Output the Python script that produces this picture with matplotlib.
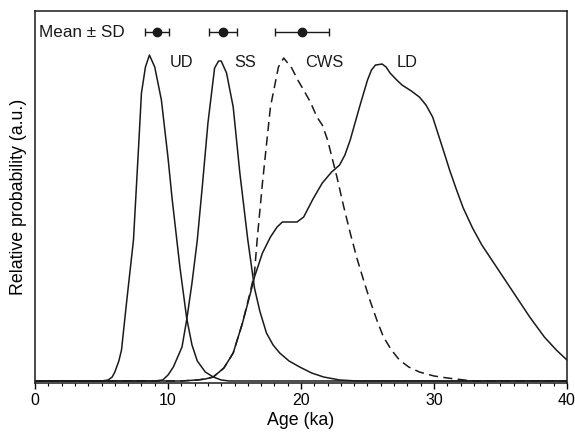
import matplotlib
matplotlib.use('Agg')
import matplotlib.pyplot as plt
from matplotlib.ticker import MultipleLocator

plt.rcParams['font.family'] = ['Liberation Sans', 'DejaVu Sans']

# Age (ka) and relative probability (a.u.)
ud_age = [0, 5.0, 5.5, 5.8, 6.0, 6.3, 6.5, 6.9, 7.4, 7.8, 8.0, 8.3, 8.6, 8.8, 9.0, 9.5,
          10.0, 10.3, 10.9, 11.4, 11.8, 12.2, 12.8, 13.4, 14.0, 14.6, 16, 40]
ud_prob = [2, 2, 3, 6, 11, 22, 33, 83, 143, 240, 290, 316, 328, 322, 316, 283,
           225, 185, 115, 65, 38, 22, 11, 6, 3, 2, 2, 2]

ss_age = [0, 9.0, 9.6, 10.0, 10.4, 11.05, 11.4, 11.8, 12.2, 12.6, 13.0, 13.5, 13.8, 14.0,
          14.4, 14.9, 15.4, 16.0, 16.5, 16.9, 17.4, 17.9, 18.4, 19.1, 19.9, 20.8, 21.7,
          22.9, 24.2, 40]
ss_prob = [2, 2, 3, 8, 16, 36, 63, 100, 143, 200, 260, 315, 322, 322,
           310, 276, 210, 143, 95, 72, 50, 38, 30, 22, 16, 10, 6, 3, 2, 2]

cws_age = [0, 11.0, 12.2, 12.8, 13.4, 14.2, 14.9, 15.6, 16.2, 16.5, 16.7, 17.1, 17.7, 18.3,
           18.7, 19.3, 19.8, 20.2, 20.7, 21.2, 21.6, 22.0, 22.7, 23.2, 23.7, 24.2, 24.7,
           25.2, 25.7, 26.2, 26.8, 27.4, 28.1, 28.9, 30.0, 31.0, 32.9, 40]
cws_prob = [2, 2, 3, 4, 6, 15, 30, 60, 92, 110, 143, 200, 276, 316,
            325, 315, 302, 293, 281, 266, 258, 243, 206, 177, 150, 125, 103,
            82, 63, 46, 33, 23, 16, 11, 7, 5, 2, 2]

ld_age = [0, 11.0, 12.2, 12.8, 13.4, 14.2, 14.9, 15.6, 16.2, 16.5, 17.1, 17.7, 18.2, 18.6,
          19.2, 19.7, 20.2, 20.9, 21.6, 22.3, 22.9, 23.3, 23.7, 24.4, 25.0, 25.3, 25.6,
          26.1, 26.4, 26.7, 27.2, 27.6, 28.3, 28.9, 29.4, 29.9, 30.7, 31.2, 31.7, 32.2,
          32.9, 33.6, 34.4, 35.2, 36.2, 37.2, 38.3, 39.2, 40]
ld_prob = [2, 2, 3, 4, 6, 15, 30, 60, 90, 106, 130, 146, 156, 161,
           161, 161, 166, 184, 200, 211, 218, 228, 243, 276, 303, 313, 318,
           319, 316, 310, 303, 298, 292, 286, 278, 266, 233, 212, 193, 175,
           155, 138, 122, 106, 86, 66, 46, 33, 23]

# mean +- SD of each group
groups = ['UD', 'SS', 'CWS', 'LD']
means = [9.17, 14.14, 20.1]
sds = [0.9, 1.05, 2.03]
label_x = [10.15, 15.0, 20.3, 27.2]

ink = '#1a1a1a'

fig = plt.figure(figsize=(5.75, 4.33), dpi=100)
ax = fig.add_axes([0.061, 0.1155, 0.925, 0.859])

ax.plot(ud_age, ud_prob, color=ink, lw=1.1)
ax.plot(ss_age, ss_prob, color=ink, lw=1.1)
ax.plot(cws_age, cws_prob, color=ink, lw=1.1, linestyle=(0, (6, 3.5)))
ax.plot(ld_age, ld_prob, color=ink, lw=1.1)

ax.errorbar(means, [351] * len(means), xerr=sds, fmt='o', color=ink,
            ms=6, capsize=3, elinewidth=1.0, capthick=1.0)
ax.text(0.3, 351, 'Mean \u00b1 SD', fontsize=12.3, va='center', ha='left', color=ink)

for g, lx in zip(groups, label_x):
    ax.text(lx, 321, g, fontsize=11.8, va='center', ha='left', color=ink)

ax.set_xlim(0, 40)
ax.set_ylim(0, 372)
ax.xaxis.set_major_locator(MultipleLocator(10))
ax.xaxis.set_minor_locator(MultipleLocator(1))
ax.tick_params(axis='x', which='major', direction='out', length=4, width=1, labelsize=11.5, pad=3)
ax.tick_params(axis='x', which='minor', direction='out', length=2.5, width=0.8)
ax.set_yticks([])
for s in ax.spines.values():
    s.set_linewidth(1.1)
    s.set_color(ink)

ax.set_xlabel('Age (ka)', fontsize=12.8, labelpad=3)
ax.set_ylabel('Relative probability (a.u.)', fontsize=12.8, labelpad=6)

plt.savefig('out.png', dpi=100)
